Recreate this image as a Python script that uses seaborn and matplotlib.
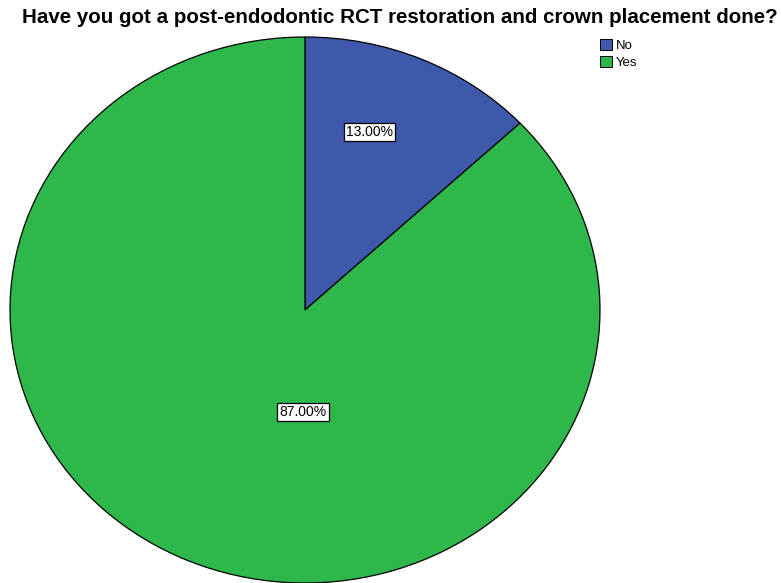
import matplotlib
matplotlib.use("Agg")
import matplotlib.pyplot as plt
import seaborn as sns
from matplotlib.patches import Patch

sns.set_style("white")
plt.rcParams['font.family'] = ['Liberation Sans', 'DejaVu Sans']
plt.rcParams['text.color'] = 'black'

categories = ["No", "Yes"]
values = [13.0, 87.0]
colors = ["#3E58AC", "#2EB84B"]
title = "Have you got a post-endodontic RCT restoration and crown placement done?"

fig = plt.figure(figsize=(7.81, 5.83), dpi=100)
ax = fig.add_axes([0, 0, 1, 1])
wedges, texts, autotexts = ax.pie(
    values, colors=colors, startangle=90, counterclock=False,
    autopct="%.2f%%", wedgeprops=dict(edgecolor="black", linewidth=0.9),
    textprops=dict(fontsize=10, color="black"))
ax.set_aspect("auto")
ax.set_xlim(-305 / 295, 476 / 295)
ax.set_ylim(-1.0, 310 / 273)
ax.axis("off")

label_pos = [(0.22, 0.652), (-0.007, -0.374)]
for t, p in zip(autotexts, label_pos):
    t.set_position(p)
    t.set_ha("center")
    t.set_va("center")
    t.set_bbox(dict(facecolor="white", edgecolor="black", linewidth=0.9, pad=1.5))

fig.text(0.512, 0.97, title, ha="center", va="center", fontsize=14.8,
         fontweight="bold", color="black")

handles = [Patch(facecolor=c, edgecolor="black", linewidth=0.7) for c in colors]
leg = fig.legend(handles, categories, loc="upper left", bbox_to_anchor=(0.767, 0.935),
                 frameon=False, fontsize=9.5, handlelength=0.9, handleheight=0.9,
                 handletextpad=0.25, labelspacing=0.3, borderpad=0.1, borderaxespad=0)
for t in leg.get_texts():
    t.set_color("black")

fig.savefig("out.png", dpi=100)
